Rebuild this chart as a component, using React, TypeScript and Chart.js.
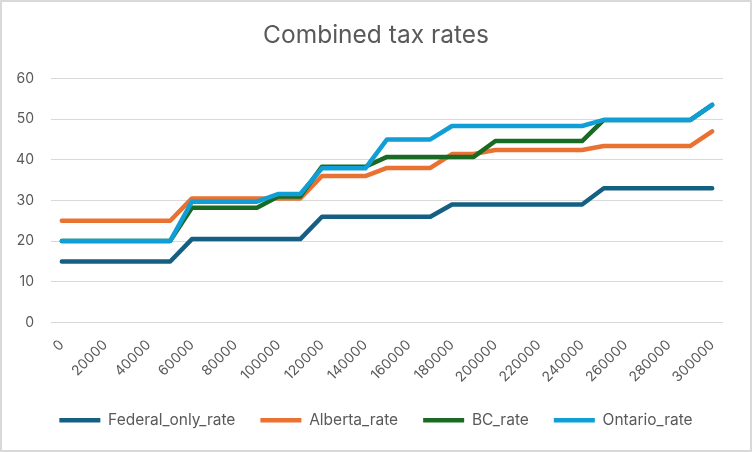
import React, { useEffect, useRef } from "react";
import { Chart, registerables } from "chart.js";

Chart.register(...registerables);

const FONT = "Inter, 'Liberation Sans', sans-serif";
const TEXT = "#595959";

const incomes = [
  0, 10000, 20000, 30000, 40000, 50000, 60000, 70000, 80000, 90000, 100000,
  110000, 120000, 130000, 140000, 150000, 160000, 170000, 180000, 190000, 200000,
  210000, 220000, 230000, 240000, 250000, 260000, 270000, 280000, 290000, 300000,
];

const federalOnly = [
  15, 15, 15, 15, 15, 15, 20.5, 20.5, 20.5, 20.5, 20.5,
  20.5, 26, 26, 26, 26, 26, 26, 29, 29, 29,
  29, 29, 29, 29, 33, 33, 33, 33, 33, 33,
];

const alberta = [
  25, 25, 25, 25, 25, 25, 30.5, 30.5, 30.5, 30.5, 30.5,
  30.5, 36, 36, 36, 38, 38, 38, 41.4, 41.4, 42.4,
  42.4, 42.4, 42.4, 42.4, 43.4, 43.4, 43.4, 43.4, 43.4, 47,
];

const bc = [
  20.06, 20.06, 20.06, 20.06, 20.06, 20.06, 28.2, 28.2, 28.2, 28.2, 31,
  31, 38.3, 38.3, 38.3, 40.7, 40.7, 40.7, 40.7, 40.7, 44.6,
  44.6, 44.6, 44.6, 44.6, 49.8, 49.8, 49.8, 49.8, 49.8, 53.5,
];

const ontario = [
  20.05, 20.05, 20.05, 20.05, 20.05, 20.05, 29.7, 29.7, 29.7, 29.7, 31.6,
  31.6, 37.9, 37.9, 37.9, 45, 45, 45, 48.3, 48.3, 48.3,
  48.3, 48.3, 48.3, 48.3, 49.8, 49.8, 49.8, 49.8, 49.8, 53.5,
];

const seriesNames = ["Federal_only_rate", "Alberta_rate", "BC_rate", "Ontario_rate"];
const seriesColors = ["#156082", "#E97132", "#196B24", "#0F9ED5"];
const seriesValues = [federalOnly, alberta, bc, ontario];

export default function App() {
  const ref = useRef<HTMLCanvasElement>(null);

  useEffect(() => {
    document.body.style.margin = "0";
    const canvas = ref.current;
    if (!canvas) return;
    const datasets = seriesValues.map((vals, i) => ({
      label: seriesNames[i],
      data: vals,
      borderColor: seriesColors[i],
      backgroundColor: seriesColors[i],
      borderWidth: 4.5,
      pointRadius: 0,
      pointHoverRadius: 0,
      tension: 0,
      fill: false,
      borderCapStyle: "round" as const,
      borderJoinStyle: "round" as const,
      order: seriesValues.length - 1 - i,
    }));

    const chart = new Chart(canvas, {
      type: "line",
      data: { labels: incomes.map(String), datasets },
      options: {
        responsive: false,
        animation: false,
        layout: { padding: { top: 0, left: 0, right: 0, bottom: 14 } },
        plugins: {
          title: {
            display: true,
            text: "Combined tax rates",
            color: TEXT,
            font: { family: FONT, size: 24.5, weight: "normal" },
            padding: { top: 21, bottom: 28 },
          },
          legend: {
            position: "bottom",
            labels: {
              usePointStyle: true,
              pointStyle: "line",
              pointStyleWidth: 41,
              padding: 25,
              color: TEXT,
              font: { family: FONT, size: 15.5 },
              sort: (a: any, b: any) => a.datasetIndex - b.datasetIndex,
            },
          },
          tooltip: { enabled: false },
        },
        scales: {
          x: {
            type: "category",
            offset: true,
            grid: { display: false },
            border: { display: false },
            ticks: {
              autoSkip: false,
              maxRotation: 45,
              minRotation: 45,
              padding: 6,
              color: TEXT,
              font: { family: FONT, size: 14 },
              callback: function (this: any, value: any, index: number) {
                return index % 2 === 0 ? this.getLabelForValue(value) : "";
              },
            },
            afterFit: (s: any) => {
              s.height = 65;
            },
          },
          y: {
            min: 0,
            max: 60,
            ticks: {
              stepSize: 10,
              padding: 17,
              color: TEXT,
              font: { family: FONT, size: 14 },
            },
            grid: { color: "#d9d9d9", lineWidth: 1, drawTicks: false },
            border: { display: false },
            afterFit: (s: any) => {
              s.width = 51;
            },
          },
          yRight: {
            position: "right",
            display: true,
            grid: { display: false },
            border: { display: false },
            ticks: { display: false },
            afterFit: (s: any) => {
              s.width = 29;
            },
          },
        },
      } as any,
    });
    return () => chart.destroy();
  }, []);

  return (
    <div style={{ position: "absolute", left: 0, top: 0, width: 752, height: 452, background: "#fff" }}>
      <canvas ref={ref} width={752} height={452} style={{ display: "block", position: "absolute", left: 0, top: 0 }} />
      <div
        style={{
          position: "absolute",
          left: 0,
          top: 0,
          width: 752,
          height: 452,
          boxSizing: "border-box",
          border: "2px solid #d9d9d9",
          pointerEvents: "none",
        }}
      />
    </div>
  );
}
